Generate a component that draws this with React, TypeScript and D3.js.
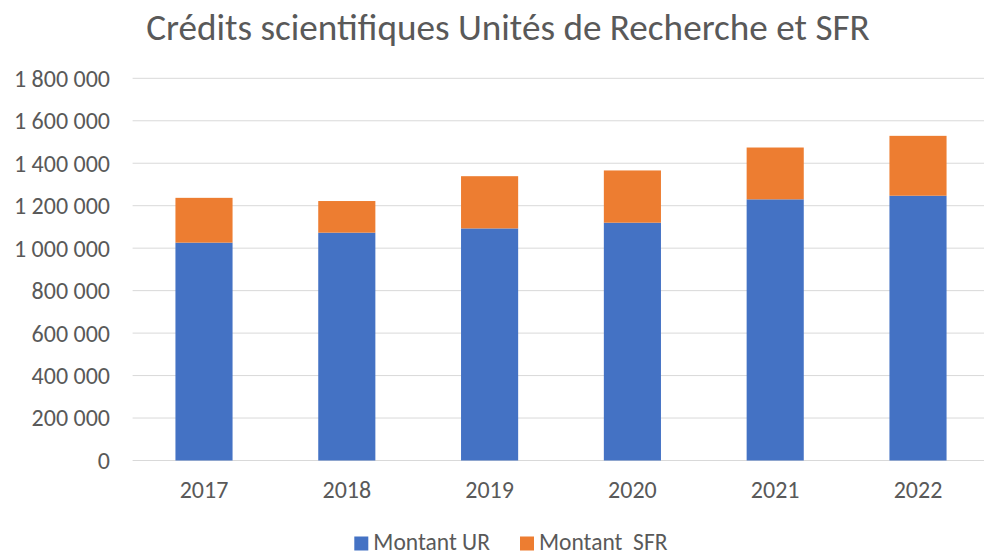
import React from "react";
import * as d3 from "d3";

const years = ["2017", "2018", "2019", "2020", "2021", "2022"];
const montantUR = [1026000, 1073000, 1093000, 1120000, 1230000, 1247000];
const montantSFR = [211000, 149000, 246000, 246000, 244000, 282000];
const yTicks = [0, 200000, 400000, 600000, 800000, 1000000, 1200000, 1400000, 1600000, 1800000];
const seriesNames = ["Montant UR", "Montant  SFR"];
const colors = ["#4472C4", "#ED7D31"];

const W = 984;
const H = 553;
const FONT = "Calibri, Carlito, 'Open Sans', sans-serif";

const fmt = (v: number) => d3.format(",")(v).replace(/,/g, " ");

export default function App() {
  const x = d3.scaleBand<string>().domain(years).range([132.6, 989.4]).paddingInner(0.6).paddingOuter(0.3);
  const y = d3.scaleLinear().domain([0, 1800000]).range([460.5, 78.3]);

  const rows = years.map((yr, i) => ({ year: yr, ur: montantUR[i], sfr: montantSFR[i] }));
  const stack = d3.stack<any>().keys(["ur", "sfr"])(rows);

  return (
    <div style={{ position: "absolute", left: 0, top: 0 }}>
      <svg width={W} height={H} style={{ display: "block", background: "#fff" }}>
        <text x={508} y={40} textAnchor="middle" fontFamily={FONT} fontSize={37.2} fill="#595959">
          Crédits scientifiques Unités de Recherche et SFR
        </text>
        {yTicks.map((t) => (
          <g key={t}>
            <line x1={132.6} x2={989.4} y1={y(t)} y2={y(t)} stroke="#D9D9D9" strokeWidth={1} />
            <text x={110} y={y(t)} dy="0.35em" textAnchor="end" fontFamily={FONT} fontSize={24} fill="#595959">
              {fmt(t)}
            </text>
          </g>
        ))}
        {stack.map((s, si) => (
          <g key={si} fill={colors[si]}>
            {s.map((d, i) => (
              <rect
                key={i}
                x={x(years[i])}
                width={x.bandwidth()}
                y={y(d[1])}
                height={y(d[0]) - y(d[1])}
              />
            ))}
          </g>
        ))}
        {years.map((yr) => (
          <text
            key={yr}
            x={(x(yr) as number) + x.bandwidth() / 2}
            y={498}
            textAnchor="middle"
            fontFamily={FONT}
            fontSize={24}
            fill="#595959"
          >
            {yr}
          </text>
        ))}
        {seriesNames.map((n, i) => {
          const lx = [354.3, 520][i];
          return (
            <g key={n}>
              <rect x={lx} y={536.5} width={14} height={14} fill={colors[i]} />
              <text x={lx + 19} y={549.5} fontFamily={FONT} fontSize={23.5} fill="#595959" style={{ whiteSpace: "pre" }}>
                {n}
              </text>
            </g>
          );
        })}
      </svg>
    </div>
  );
}
